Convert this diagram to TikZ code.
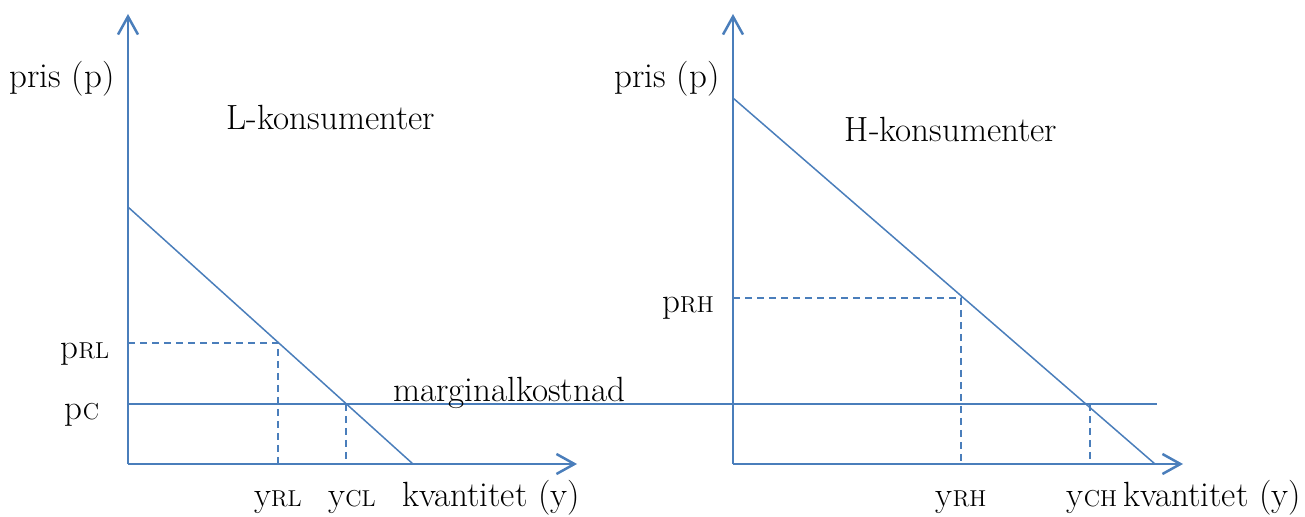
\documentclass[tikz,border=0pt]{standalone}
\usepackage{tikz}
\usetikzlibrary{arrows.meta}
\definecolor{lineblue}{RGB}{74,126,187}
\newcommand{\smallidx}[1]{{\fontsize{11.5}{13}\selectfont #1}}

\begin{document}
\begin{tikzpicture}[
        x=0.5pt, y=-0.5pt,
        every node/.style={font=\fontsize{17.5}{21}\selectfont, inner sep=0pt},
        axis/.style={draw=lineblue, line width=1.25pt, -{Straight Barb[length=9pt,width=10pt]}},
        demand/.style={draw=lineblue, line width=0.75pt},
        guide/.style={draw=lineblue, line width=0.6pt, dash pattern=on 3.5pt off 2.5pt},
        lbl/.style={anchor=base}
    ]
        \useasboundingbox (0,0) rectangle (1305,517);

        % L-konsumenter
        \coordinate (oL) at (128,464);
        \coordinate (topL) at (128,14);
        \coordinate (endL) at (577,464);
        \coordinate (dL1) at (128,207);
        \coordinate (dL2) at (413,464);
        \coordinate (pRL) at (128,343);
        \coordinate (rL) at (278,343);
        \coordinate (yRL) at (278,464);
        \coordinate (cL) at (346,404);
        \coordinate (yCL) at (346,464);

        % H-konsumenter
        \coordinate (oH) at (733,464);
        \coordinate (topH) at (733,14);
        \coordinate (endH) at (1183,464);
        \coordinate (dH1) at (733,98);
        \coordinate (dH2) at (1155,464);
        \coordinate (pRH) at (733,298);
        \coordinate (rH) at (961,298);
        \coordinate (yRH) at (961,464);
        \coordinate (cH) at (1090,404);
        \coordinate (yCH) at (1090,464);

        % marginal cost
        \coordinate (mc1) at (128,404);
        \coordinate (mc2) at (1157,404);

        % Lines
        \draw[demand] (mc1) -- (mc2);
        \draw[demand] (dL1) -- (dL2);
        \draw[demand] (dH1) -- (dH2);
        \draw[guide] (pRL) -- (rL) -- (yRL);
        \draw[guide] (cL) -- (yCL);
        \draw[guide] (pRH) -- (rH) -- (yRH);
        \draw[guide] (cH) -- (yCH);

        % Axes
        \draw[axis] (oL) -- (topL);
        \draw[axis] (oL) -- (endL);
        \draw[axis] (oH) -- (topH);
        \draw[axis] (oH) -- (endH);

        % Labels
        \node[lbl] (prisL) at (62,88) {pris (p)};
        \node[lbl] (titleL) at (331,130) {L-konsumenter};
        \node[lbl] (lblpRL) at (85,359) {p\smallidx{RL}};
        \node[lbl] (lblpC) at (82,420) {p\smallidx{C}};
        \node[lbl] (mc) at (509,402) {marginalkostnad};
        \node[lbl] (lblyRL) at (278,507) {y\smallidx{RL}};
        \node[lbl] (lblyCL) at (352,507) {y\smallidx{CL}};
        \node[lbl] (kvantL) at (491,507) {kvantitet (y)};

        \node[lbl] (prisH) at (667,88) {pris (p)};
        \node[lbl] (titleH) at (951,142) {H-konsumenter};
        \node[lbl] (lblpRH) at (688,313) {p\smallidx{RH}};
        \node[lbl] (lblyRH) at (961,507) {y\smallidx{RH}};
        \node[lbl] (lblyCH) at (1092,507) {y\smallidx{CH}};
        \node[lbl] (kvantH) at (1212,507) {kvantitet (y)};
    \end{tikzpicture}
\end{document}
